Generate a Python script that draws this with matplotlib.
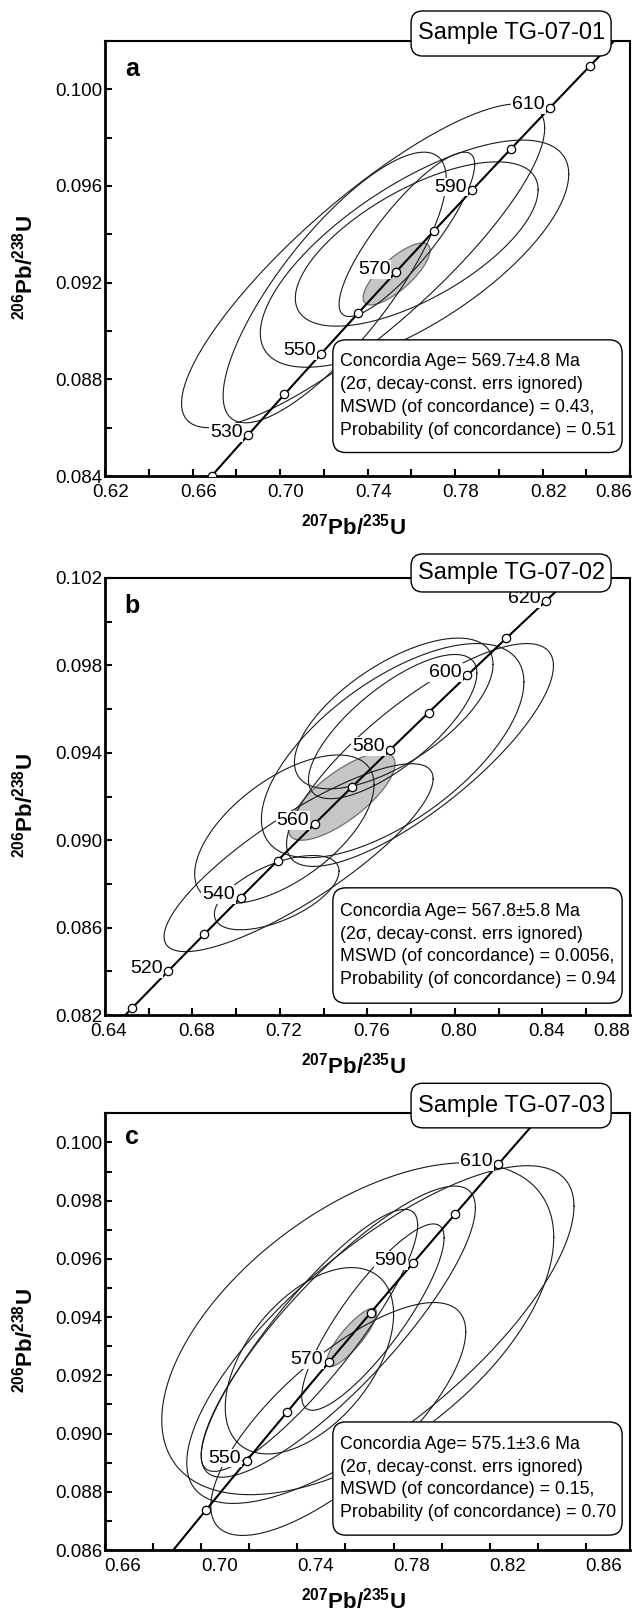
import matplotlib
matplotlib.use("Agg")
import matplotlib.pyplot as plt
import matplotlib.transforms as mtransforms
from matplotlib.patches import FancyBboxPatch
import numpy as np

plt.rcParams['font.family'] = ['Liberation Sans', 'DejaVu Sans']
plt.rcParams['mathtext.fontset'] = 'custom'
plt.rcParams['mathtext.bf'] = 'Liberation Sans:bold'
plt.rcParams['mathtext.rm'] = 'Liberation Sans'

# decay constants (1/yr) for the concordia curve
L238 = 1.55125e-10
L235 = 9.8485e-10

# error ellipses: centre x, centre y, half-width x, half-height y, rho
ell_a = [(0.738, 0.0927, 0.083, 0.0067, 0.85),
         (0.725, 0.0918, 0.051, 0.0056, 0.80),
         (0.7615, 0.0932, 0.0705, 0.0047, 0.70),
         (0.7625, 0.0936, 0.0555, 0.0034, 0.66),
         (0.758, 0.0940, 0.031, 0.0034, 0.85)]
mean_a = (0.7533, 0.09236, 0.0153, 0.00128, 0.77)

ell_b = [(0.772, 0.0958, 0.0454, 0.00345, 0.65),
         (0.7715, 0.0952, 0.0385, 0.0033, 0.74),
         (0.784, 0.0939, 0.061, 0.0051, 0.80),
         (0.7715, 0.0941, 0.060, 0.0049, 0.64),
         (0.722, 0.0905, 0.041, 0.0034, 0.60),
         (0.7285, 0.0892, 0.0615, 0.0043, 0.84),
         (0.7185, 0.0876, 0.0285, 0.0017, 0.58)]
mean_b = (0.7482, 0.0920, 0.0244, 0.0020, 0.75)

ell_c = [(0.7651, 0.0936, 0.0815, 0.0057, 0.55),
         (0.7745, 0.0934, 0.0805, 0.0058, 0.76),
         (0.757, 0.0935, 0.057, 0.0050, 0.85),
         (0.7714, 0.0940, 0.0296, 0.0032, 0.85),
         (0.745, 0.0925, 0.035, 0.0032, 0.50),
         (0.745, 0.0932, 0.045, 0.0045, 0.88),
         (0.757, 0.0905, 0.053, 0.0040, 0.75)]
mean_c = (0.7625, 0.0933, 0.0104, 0.00100, 0.85)

# concordia age marks (Ma) and the labelled ones
marks_a = [520, 530, 540, 550, 560, 570, 580, 590, 600, 610, 620]
labels_a = [530, 550, 570, 590, 610]
marks_b = [510, 520, 530, 540, 550, 560, 570, 580, 590, 600, 610, 620]
labels_b = [520, 540, 560, 580, 600, 620]
marks_c = [540, 550, 560, 570, 580, 590, 600, 610, 620]
labels_c = [550, 570, 590, 610]

samples = ['Sample TG-07-01', 'Sample TG-07-02', 'Sample TG-07-03']
letters = ['a', 'b', 'c']
ages = ['569.7\u00b14.8', '567.8\u00b15.8', '575.1\u00b13.6']
mswd = ['0.43', '0.0056', '0.15']
prob = ['0.51', '0.94', '0.70']

xlims = [(0.62, 0.86), (0.64, 0.88), (0.66, 0.8783)]
ylims = [(0.084, 0.102), (0.082, 0.102), (0.086, 0.10101)]
xticks = [np.arange(0.62, 0.861, 0.04), np.arange(0.64, 0.881, 0.04), np.arange(0.66, 0.861, 0.04)]
yticks = [np.arange(0.084, 0.1001, 0.004), np.arange(0.082, 0.1021, 0.004), np.arange(0.086, 0.1001, 0.002)]
yminor = [0.002, 0.002, 0.001]
# px the x tick labels sit right of their ticks (the rest, and the last one)
xlab_shift = [(6, -16), (4, -18), (18, 18)]

W, H = 639, 1611
rects = [(41, 476), (578, 1015), (1113, 1550)]   # axes top, bottom in px
box_y = [(0.054, 0.313), (0.027, 0.291), (0.034, 0.293)]
title_box_y = [(0.9655, 1.069), (0.968, 1.055), (0.966, 1.068)]
letter_y = [0.936, 0.937, 0.946]


def ell_xy(cx, cy, sx, sy, rho, n=300):
    t = np.linspace(0, 2 * np.pi, n)
    x = cx + sx * np.cos(t)
    y = cy + sy * (rho * np.cos(t) + np.sqrt(1 - rho ** 2) * np.sin(t))
    return x, y


def conc(t_ma):
    t = np.asarray(t_ma, dtype=float) * 1e6
    return np.exp(L235 * t) - 1, np.exp(L238 * t) - 1


fig = plt.figure(figsize=(W / 100, H / 100), dpi=100)
panels = [(ell_a, mean_a, marks_a, labels_a), (ell_b, mean_b, marks_b, labels_b),
          (ell_c, mean_c, marks_c, labels_c)]

for i, (ells, mean, marks, labs) in enumerate(panels):
    top, bot = rects[i]
    hpx = bot - top
    ax = fig.add_axes([105 / W, 1 - bot / H, 525 / W, hpx / H])
    ax.set_xlim(*xlims[i])
    ax.set_ylim(*ylims[i])

    mx, my = ell_xy(*mean)
    ax.fill(mx, my, facecolor='#c6c6c6', edgecolor='#6e6e6e', lw=0.9, zorder=1)
    for e in ells:
        ex, ey = ell_xy(*e)
        ax.plot(ex, ey, color='#1a1a1a', lw=0.8, zorder=2)

    cx, cy = conc(np.arange(480, 661, 1))
    ax.plot(cx, cy, color='black', lw=1.5, zorder=3)
    px, py = conc(marks)
    ax.plot(px, py, 'o', ms=6, mfc='white', mec='black', mew=0.9, zorder=4)
    for a in labs:
        lx, ly = conc(a)
        ax.annotate(str(a), (lx, ly), xytext=(-4, 2), textcoords='offset points',
                    ha='right', va='center', fontsize=14, zorder=5,
                    bbox=dict(boxstyle='square,pad=0.05', fc='white', ec='none'))

    # axes styling
    for s in ['left', 'bottom']:
        ax.spines[s].set_linewidth(2.0)
    for s in ['top', 'right']:
        ax.spines[s].set_linewidth(1.5)
    ax.set_xticks(xticks[i])
    ax.set_xticklabels(['%.2f' % v for v in xticks[i]])
    ax.set_yticks(yticks[i])
    ax.set_yticklabels(['%.3f' % v for v in yticks[i]])
    ax.xaxis.set_minor_locator(matplotlib.ticker.MultipleLocator(0.02))
    ax.yaxis.set_minor_locator(matplotlib.ticker.MultipleLocator(yminor[i]))
    ax.tick_params(which='both', direction='in', length=5, width=1.5,
                   labelsize=13.5, top=False, right=False)
    ax.tick_params(axis='y', pad=2)
    ax.tick_params(axis='x', pad=6)
    xlabs = ax.get_xticklabels()
    for k, lab in enumerate(xlabs):
        dx = xlab_shift[i][1] if k == len(xlabs) - 1 else xlab_shift[i][0]
        lab.set_transform(lab.get_transform() +
                          mtransforms.ScaledTranslation(dx / 100, 0, fig.dpi_scale_trans))

    ax.set_xlabel(r'$\mathbf{^{207}Pb/^{235}U}$', fontsize=16)
    ax.xaxis.set_label_coords(0.474, -38 / hpx)
    ax.set_ylabel(r'$\mathbf{^{206}Pb/^{238}U}$', fontsize=16)
    ax.yaxis.set_label_coords(-0.128, 0.48)

    ax.text(0.051, letter_y[i], letters[i], transform=ax.transAxes,
            fontsize=18, fontweight='bold', ha='center', va='center')

    # sample title box
    t0, t1 = title_box_y[i]
    tbox = FancyBboxPatch((0.583, t0), 0.964 - 0.583, t1 - t0, transform=ax.transAxes,
                          boxstyle='round,pad=0,rounding_size=0.022', fc='white',
                          ec='black', lw=1.0, zorder=10, clip_on=False,
                          mutation_aspect=525 / hpx)
    ax.add_patch(tbox)
    ax.text((0.583 + 0.964) / 2, (t0 + t1) / 2, samples[i], transform=ax.transAxes,
            fontsize=17, ha='center', va='center', zorder=11, clip_on=False)

    # result box
    y0, y1 = box_y[i]
    box = FancyBboxPatch((0.434, y0), 0.985 - 0.434, y1 - y0, transform=ax.transAxes,
                         boxstyle='round,pad=0,rounding_size=0.025', fc='white',
                         ec='black', lw=1.0, zorder=6, mutation_aspect=525 / hpx)
    ax.add_patch(box)
    txt = ('Concordia Age= %s Ma\n(2\u03c3, decay-const. errs ignored)\n'
           'MSWD (of concordance) = %s,\nProbability (of concordance) = %s'
           % (ages[i], mswd[i], prob[i]))
    ax.text(0.447, (y0 + y1) / 2, txt, transform=ax.transAxes, fontsize=12.8,
            ha='left', va='center', linespacing=1.45, zorder=7)

fig.savefig('out.png', dpi=100)
